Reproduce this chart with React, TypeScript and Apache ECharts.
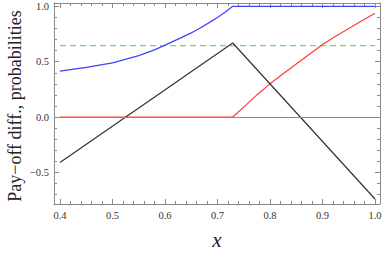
import React, { useEffect, useRef } from "react";
import * as echarts from "echarts";

// ---- data ----
const blueX = [0.4, 0.45, 0.5, 0.55, 0.58, 0.6, 0.63, 0.65, 0.667, 0.685, 0.7, 0.715, 0.729, 1.0];
const blueY = [0.415, 0.448, 0.49, 0.555, 0.607, 0.65, 0.715, 0.76, 0.805, 0.855, 0.9, 0.948, 1.0, 1.0];

const redX = [0.4, 0.729, 0.75, 0.775, 0.8, 0.825, 0.85, 0.875, 0.9, 0.925, 0.95, 0.975, 1.0];
const redY = [0, 0, 0.09, 0.2, 0.3, 0.392, 0.48, 0.568, 0.655, 0.73, 0.8, 0.87, 0.937];

const blackX = [0.4, 0.729, 1.0];
const blackY = [-0.41, 0.669, -0.74];

const greenX = [0.4, 1.0];
const greenY = [0.645, 0.645];

const xMajorTicks = [0.4, 0.5, 0.6, 0.7, 0.8, 0.9, 1.0];
const xMinorTicks = [0.42, 0.44, 0.46, 0.48, 0.52, 0.54, 0.56, 0.58, 0.62, 0.64, 0.66, 0.68, 0.72, 0.74, 0.76, 0.78, 0.82, 0.84, 0.86, 0.88, 0.92, 0.94, 0.96, 0.98];
const yMajorTicks = [-0.5, 0.0, 0.5, 1.0];
const yMinorTicks = [-0.7, -0.6, -0.4, -0.3, -0.2, -0.1, 0.1, 0.2, 0.3, 0.4, 0.6, 0.7, 0.8, 0.9];

const X_MIN = 0.3886;
const X_MAX = 1.0095;
const Y_MIN = -0.785;
const Y_MAX = 1.03;

const yTitle = "Pay\u2212off diff., probabilities";
const xTitle = "x";

const zip = (xs: number[], ys: number[]) => xs.map((x, i) => [x, ys[i]]);

const FRAME = "#8a8a8a";
const FONT = "'Liberation Serif', 'DejaVu Serif', serif";

function xAxisDef(position: "bottom" | "top", ticks: number[], len: number, showLine: boolean, labels: boolean) {
  return {
    type: "value",
    min: X_MIN,
    max: X_MAX,
    position,
    axisLine: { show: showLine, onZero: false, lineStyle: { color: FRAME, width: 1 } },
    axisTick: { show: true, inside: true, length: len, customValues: ticks, lineStyle: { color: FRAME, width: 1 } },
    axisLabel: labels
      ? {
          show: true,
          customValues: ticks,
          margin: 6,
          color: "#333",
          fontFamily: FONT,
          fontSize: 10.5,
          formatter: (v: number) => v.toFixed(1),
        }
      : { show: false },
    splitLine: { show: false },
  };
}

function yAxisDef(position: "left" | "right", ticks: number[], len: number, showLine: boolean, labels: boolean) {
  return {
    type: "value",
    min: Y_MIN,
    max: Y_MAX,
    position,
    axisLine: { show: showLine, onZero: false, lineStyle: { color: FRAME, width: 1 } },
    axisTick: { show: true, inside: true, length: len, customValues: ticks, lineStyle: { color: FRAME, width: 1 } },
    axisLabel: labels
      ? {
          show: true,
          customValues: ticks,
          margin: 5,
          color: "#333",
          fontFamily: FONT,
          fontSize: 10.5,
          formatter: (v: number) => (v < 0 ? "\u2212" + Math.abs(v).toFixed(1) : v.toFixed(1)),
        }
      : { show: false },
    splitLine: { show: false },
  };
}

export default function App() {
  const ref = useRef<HTMLDivElement>(null);

  useEffect(() => {
    if (!ref.current) return;
    const chart = echarts.init(ref.current, null, { renderer: "svg" });
    chart.setOption({
      animation: false,
      backgroundColor: "#fff",
      grid: { left: 54, right: 2, top: 3, bottom: 49, containLabel: false, outerBoundsMode: "none" },
      xAxis: [
        xAxisDef("bottom", xMajorTicks, 5, true, true),
        xAxisDef("bottom", xMinorTicks, 3, false, false),
        xAxisDef("top", xMajorTicks, 5, true, false),
        xAxisDef("top", xMinorTicks, 3, false, false),
      ],
      yAxis: [
        yAxisDef("left", yMajorTicks, 5, true, true),
        yAxisDef("left", yMinorTicks, 3, false, false),
        yAxisDef("right", yMajorTicks, 5, true, false),
        yAxisDef("right", yMinorTicks, 3, false, false),
      ],
      series: [
        {
          type: "line",
          data: zip(greenX, greenY),
          showSymbol: false,
          lineStyle: { color: "#66e066", width: 1.2, type: [6, 4] },
          markLine: {
            silent: true,
            symbol: "none",
            label: { show: false },
            lineStyle: { color: "#8a8a8a", width: 1, type: "solid" },
            data: [{ yAxis: 0 }],
          },
          z: 1,
        },
        {
          type: "line",
          data: zip(blueX, blueY),
          showSymbol: false,
          lineStyle: { color: "#4040ff", width: 1.2 },
          z: 3,
        },
        {
          type: "line",
          data: zip(redX, redY),
          showSymbol: false,
          lineStyle: { color: "#ff3a3a", width: 1.2 },
          z: 3,
        },
        {
          type: "line",
          data: zip(blackX, blackY),
          showSymbol: false,
          lineStyle: { color: "#333", width: 1.2 },
          z: 4,
        },
      ],
      graphic: [
        {
          type: "text",
          x: 15,
          y: 106,
          rotation: Math.PI / 2,
          style: {
            text: yTitle,
            fontFamily: FONT,
            fontSize: 18,
            fill: "#222",
            align: "center",
            verticalAlign: "middle",
          },
        },
        {
          type: "text",
          x: 217,
          y: 240,
          style: {
            text: xTitle,
            fontFamily: FONT,
            fontStyle: "italic",
            fontSize: 21,
            fill: "#222",
            align: "center",
            verticalAlign: "middle",
          },
        },
      ],
    });
    return () => chart.dispose();
  }, []);

  return (
    <div
      ref={ref}
      style={{ position: "absolute", left: 0, top: 0, width: 382, height: 253 }}
    />
  );
}
